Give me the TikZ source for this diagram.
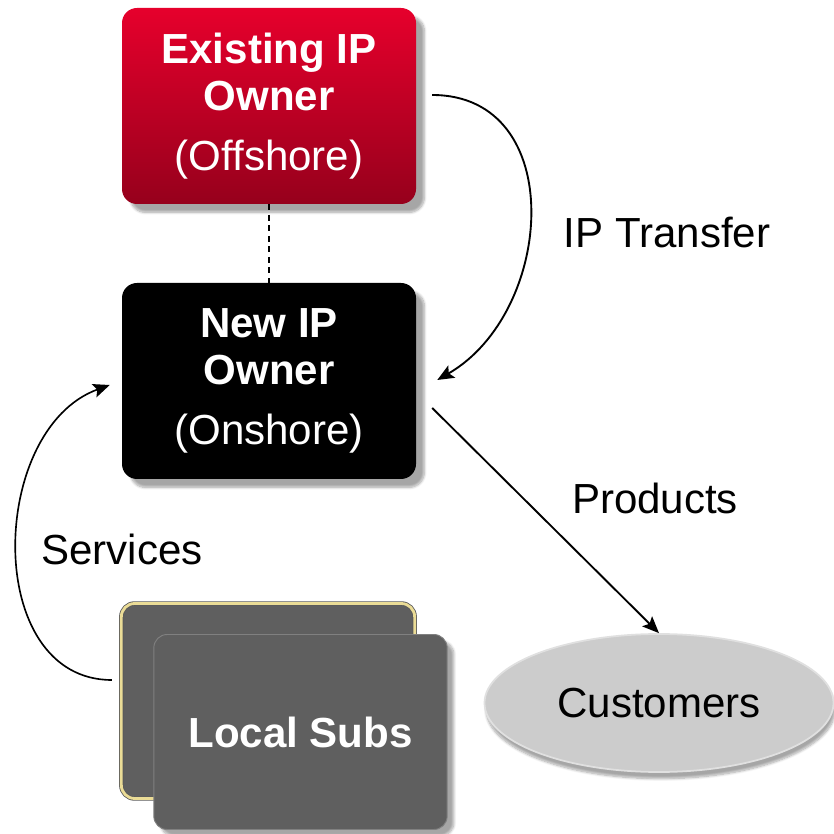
\documentclass[tikz,border=0pt]{standalone}
\usepackage{fontspec}
\setmainfont{Liberation Sans}
\usetikzlibrary{arrows.meta,shapes.geometric,shadows.blur}
\definecolor{ownerred}{RGB}{230,0,44}
\definecolor{ownerdark}{RGB}{150,0,28}
\definecolor{subgray}{RGB}{95,95,95}
\definecolor{subedge}{RGB}{235,220,150}
\definecolor{custgray}{RGB}{204,204,204}
\newcommand{\bigfont}{\fontsize{35.9}{40}\selectfont}

\begin{document}
\begin{tikzpicture}[
  owner/.style={rounded corners=0.45cm, minimum width=8.82cm, minimum height=5.88cm, align=center, text=white, font=\bigfont,
    blur shadow={shadow xshift=0.25cm, shadow yshift=-0.25cm, shadow blur steps=8, shadow opacity=35}},
  card/.style={rounded corners=0.4cm, minimum width=8.8cm, minimum height=5.85cm, fill=subgray},
  flow/.style={-{Stealth[length=0.5cm,width=0.42cm,inset=0.1cm]}, line width=1.6pt}
]
\useasboundingbox (0,0) rectangle (24.99,25.02);

\node[owner, top color=ownerred, bottom color=ownerdark] (oldowner) at (8.07,21.84) {\textbf{Existing IP}\\\textbf{Owner}\\[11pt](Offshore)};
\node[owner, fill=black] (newowner) at (8.07,13.59) {\textbf{New IP}\\\textbf{Owner}\\[11pt](Onshore)};
\draw[dash pattern=on 5pt off 4pt, line width=1.2pt] (oldowner) -- (newowner);

% local subsidiaries, two stacked cards
\node[card, draw=black!65, double=subedge, double distance=2.4pt, line width=0.7pt] (backsub) at (8.04,3.99) {};
\node[card, draw=black!50, line width=0.8pt, font=\bigfont\bfseries, text=white,
  blur shadow={shadow xshift=0.2cm, shadow yshift=-0.2cm, shadow blur steps=8, shadow opacity=35}] (frontsub) at (9.015,3.06) {Local Subs};

\node[ellipse, fill=custgray, draw=black!12, line width=1.5pt, minimum width=10.47cm, minimum height=4.14cm, inner sep=0pt, font=\bigfont,
  blur shadow={shadow xshift=0.05cm, shadow yshift=-0.2cm, shadow blur steps=8, shadow opacity=35}] (customers) at (19.77,3.93) {Customers};

\draw[flow] ([xshift=0.48cm,yshift=0.33cm]oldowner.east) to[out=0,in=30,looseness=1.22] ([xshift=0.63cm,yshift=0.03cm]newowner.east);
\draw[flow] ([xshift=0.48cm,yshift=-0.81cm]newowner.east) -- (customers.north);
\draw[flow, line width=1.4pt] ([xshift=-0.27cm,yshift=0.63cm]backsub.west) to[out=180,in=200,looseness=1.12] ([xshift=-0.36cm,yshift=-0.12cm]newowner.west);

\node[font=\bigfont] (transfer) at (20.01,18.06) {IP Transfer};
\node[font=\bigfont] (products) at (19.65,10.08) {Products};
\node[font=\bigfont] (services) at (3.66,8.55) {Services};
\end{tikzpicture}
\end{document}
